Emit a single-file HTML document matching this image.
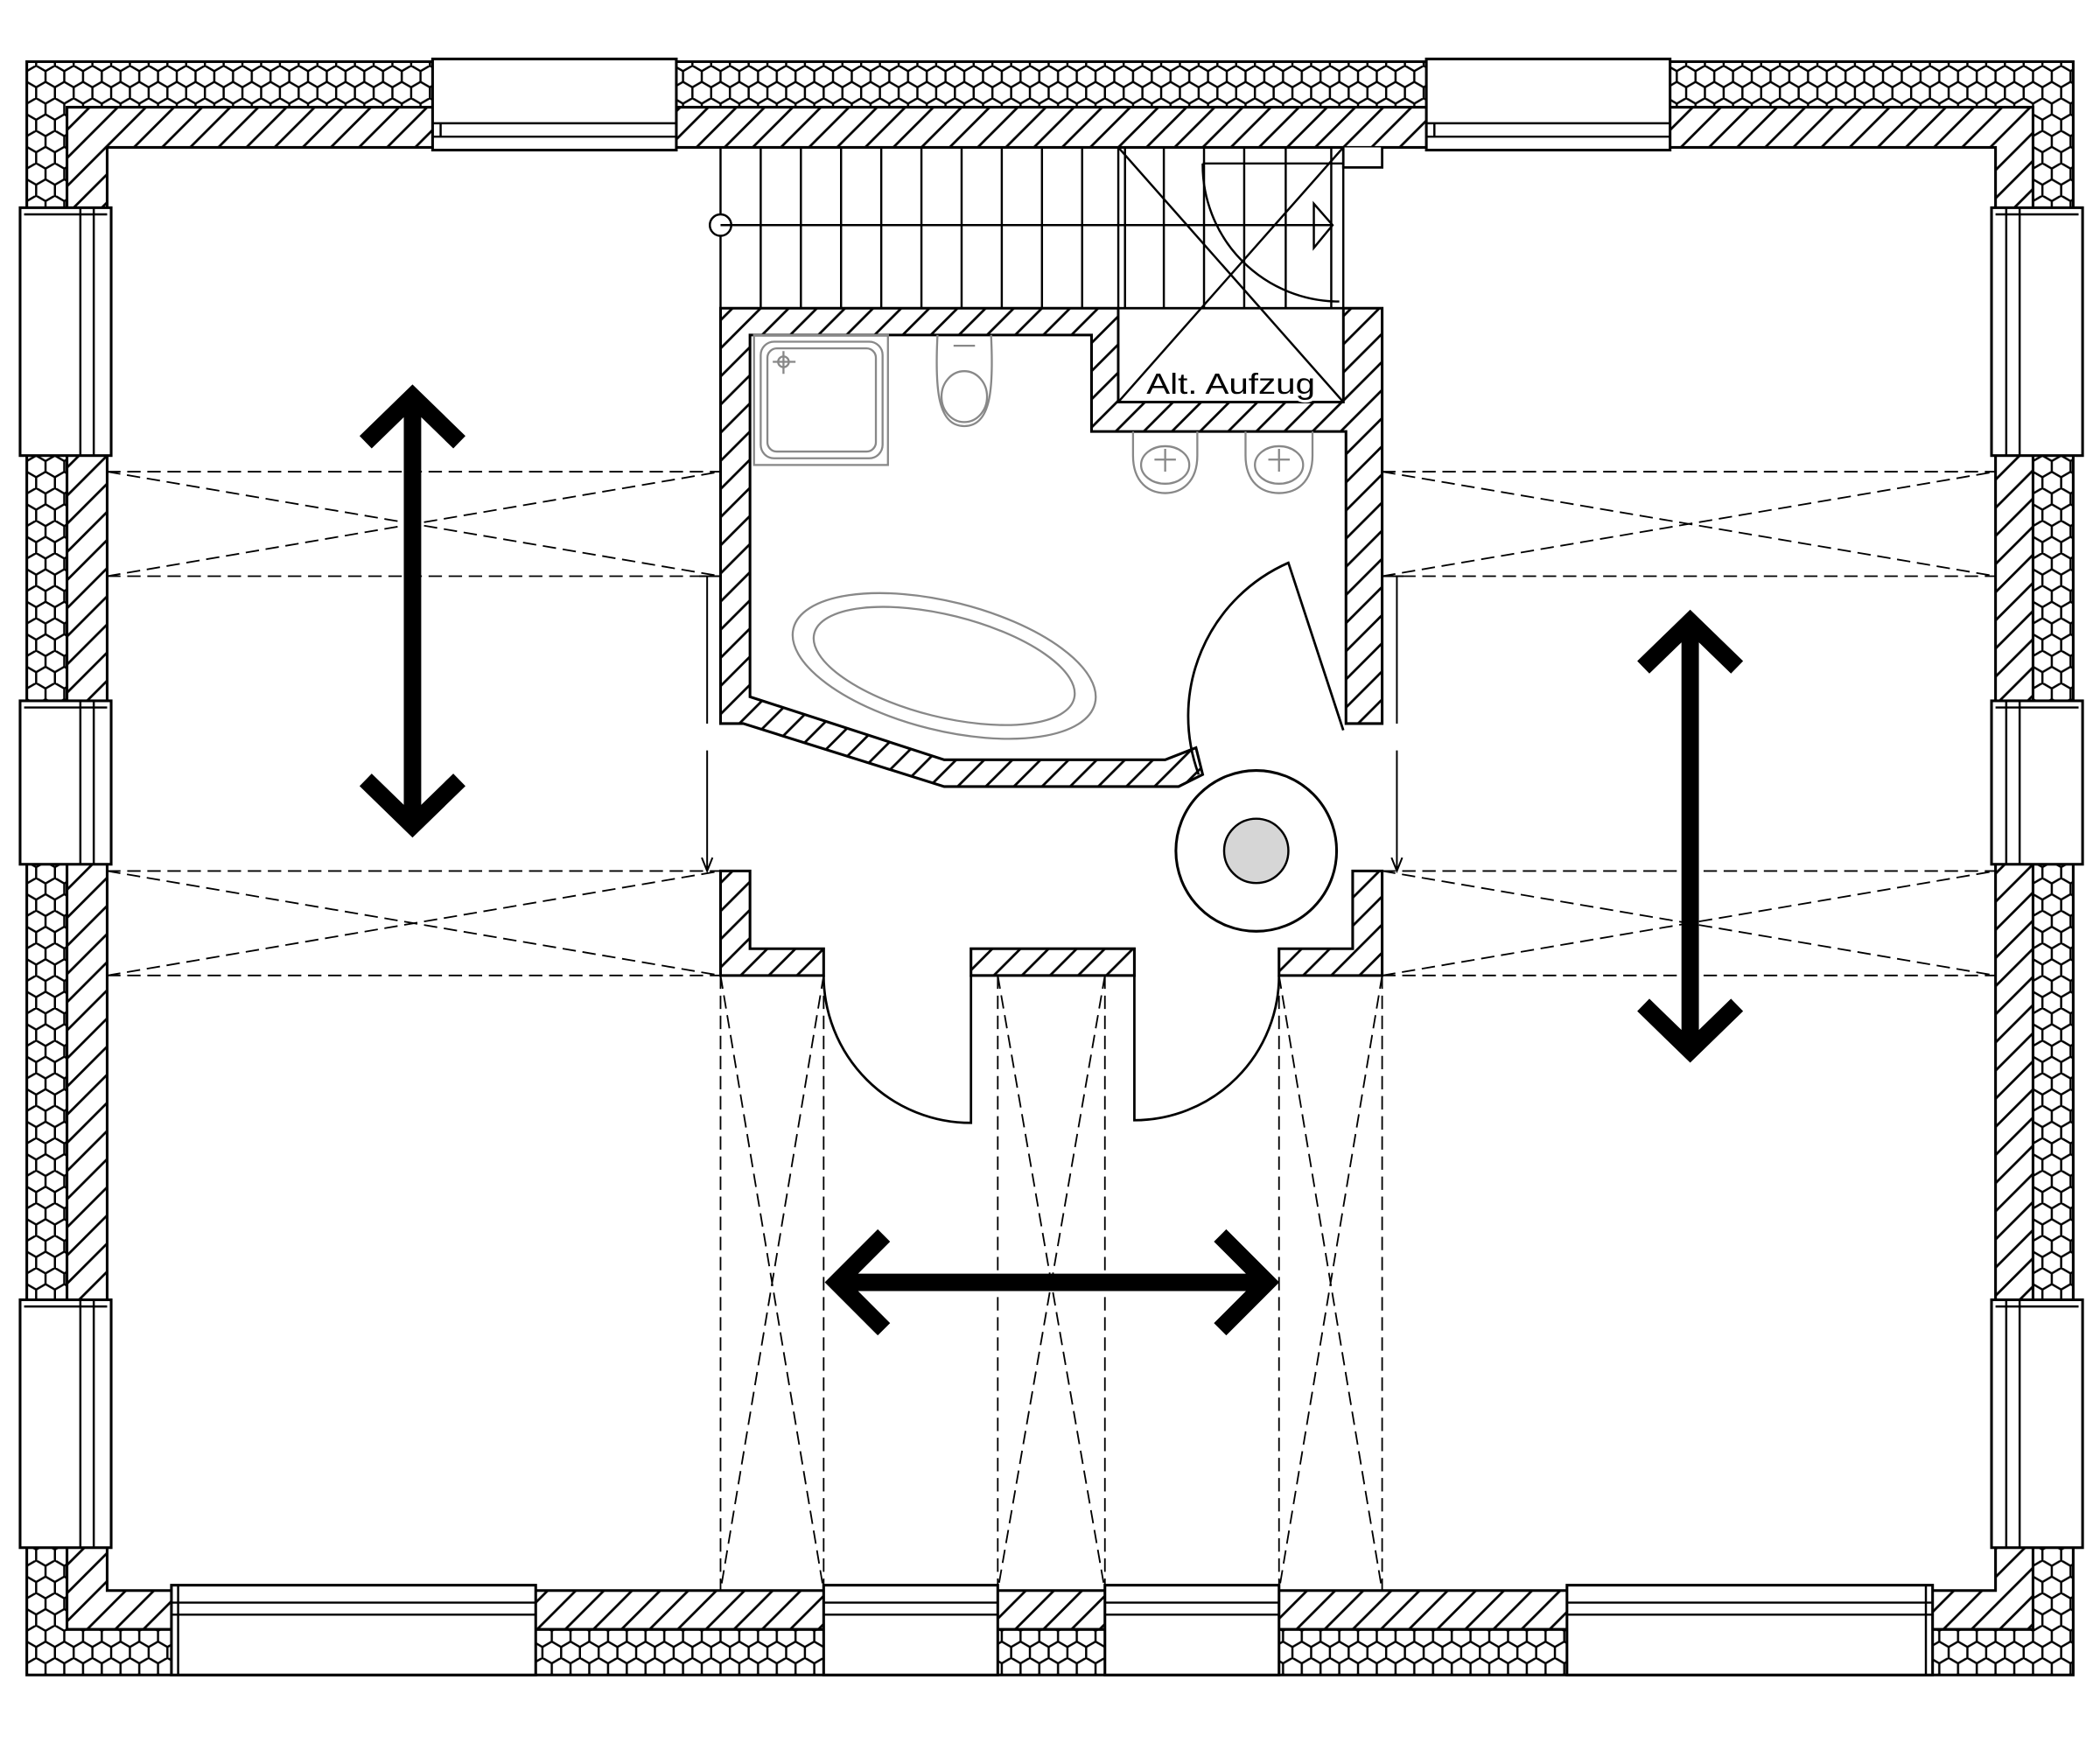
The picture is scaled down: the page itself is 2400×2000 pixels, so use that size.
<!DOCTYPE html>
<html><head><meta charset="utf-8"><style>html,body{margin:0;padding:0;background:#fff}svg{display:block}</style></head>
<body>
<svg width="2400" height="2000" viewBox="0 0 1568 1306" preserveAspectRatio="none" xmlns="http://www.w3.org/2000/svg">
<defs>
<pattern id="hex" patternUnits="userSpaceOnUse" width="14" height="24.25" x="20" y="49">
<path d="M7 0 L14 4.04 V12.12 L7 16.17 L0 12.12 V4.04 Z M7 16.17 V24.25" fill="none" stroke="#000" stroke-width="1.6"/>
</pattern>
<pattern id="hat" patternUnits="userSpaceOnUse" width="21" height="21">
<path d="M0 21 L21 0 M-5 5 L5 -5 M16 26 L26 16" stroke="#000" stroke-width="1.8"/>
</pattern>
</defs>
<rect width="1568" height="1306" fill="#fff"/>
<rect x="20" y="46" width="1528" height="1204" fill="#fff"/>
<rect x="20" y="46" width="1528" height="1204" fill="url(#hex)" stroke="#000" stroke-width="2"/>
<rect x="50" y="80" width="1468" height="1136" fill="#fff" stroke="#000" stroke-width="2"/>
<rect x="50" y="80" width="1468" height="1136" fill="url(#hat)"/>
<rect x="80" y="110" width="1410" height="1077" fill="#fff" stroke="#000" stroke-width="2"/>
<rect x="50" y="80" width="1468" height="1136" fill="none" stroke="#000" stroke-width="2"/>
<path d="M1003 110 V125 H1032 V110" fill="#fff" stroke="#000" stroke-width="1.8"/>
<g fill="#fff" stroke="#000" stroke-width="2">
<rect x="323" y="44" width="182" height="68"/><rect x="1065" y="44" width="182" height="68"/>
<rect x="15" y="155" width="68" height="185"/><rect x="15" y="523" width="68" height="122"/><rect x="15" y="970" width="68" height="185"/>
<rect x="1487" y="155" width="68" height="185"/><rect x="1487" y="523" width="68" height="122"/><rect x="1487" y="970" width="68" height="185"/>
<rect x="128" y="1183" width="272" height="67"/><rect x="615" y="1183" width="130" height="67"/><rect x="825" y="1183" width="130" height="67"/><rect x="1170" y="1183" width="273" height="67"/>
</g>
<g stroke="#000" stroke-width="1.6" fill="none">
<path d="M323 92 H505 M323 102 H505 M1065 92 H1247 M1065 102 H1247 M329 92 V102 M1071 92 V102"/>
<path d="M60 155 V340 M70 155 V340 M60 523 V645 M70 523 V645 M60 970 V1155 M70 970 V1155"/>
<path d="M1508 155 V340 M1498 155 V340 M1508 523 V645 M1498 523 V645 M1508 970 V1155 M1498 970 V1155"/>
<path d="M128 1196 H400 M128 1205 H400 M615 1196 H745 M615 1205 H745 M825 1196 H955 M825 1205 H955 M1170 1196 H1443 M1170 1205 H1443"/>
<path d="M18 160 H80 M18 528 H80 M18 975 H80 M1490 160 H1552 M1490 528 H1552 M1490 975 H1552 M133 1183 V1250 M1438 1183 V1250"/>
</g>
<g stroke="#000" stroke-width="1.6" fill="none">
<path d="M538 110 V230 M568 110 V230 M598 110 V230 M628 110 V230 M658 110 V230 M688 110 V230 M718 110 V230 M748 110 V230 M778 110 V230 M808 110 V230 M835 110 V230 M840 110 V230 M869 110 V230 M899 110 V230 M929 110 V230 M960 110 V230 M994 110 V230"/>
<circle cx="538" cy="168" r="8" fill="#fff"/>
<path d="M538 168 H995 M981 152 L995 168 L981 185 Z"/>
<path d="M898 122 H1003 M898 122 A102 102 0 0 0 1000 225"/>
</g>
<g fill="url(#hat)" stroke="#000" stroke-width="2">
<path d="M538 230 H835 V300 H1003 V230 H1032 V540 H1005 V322 H815 V250 H560 V520 L705 567 H870 L893 558 L898 578 L880 587 H705 L555 540 H538 Z"/>
<path d="M538 650 H560 V708 H615 V728 H538 Z"/>
<rect x="725" y="708" width="122" height="20"/>
<path d="M1032 650 H1010 V708 H955 V728 H1032 Z"/>
</g>
<rect x="835" y="230" width="168" height="70" fill="#fff" stroke="#000" stroke-width="1.8"/>
<path d="M835 110 L1003 300 M1003 110 L835 300 M835 110 H1003 V300" stroke="#000" stroke-width="1.6" fill="none"/>
<text x="856" y="294" font-family="Liberation Sans, sans-serif" font-size="22" fill="#000" textLength="126" lengthAdjust="spacingAndGlyphs" stroke="#fff" stroke-width="4" paint-order="stroke">Alt. Aufzug</text>
<g stroke="#888" stroke-width="1.5" fill="none">
<rect x="563" y="250" width="100" height="97"/>
<rect x="568" y="255" width="91" height="87" rx="10"/><rect x="573" y="260" width="81" height="77" rx="7"/>
<circle cx="585" cy="270" r="4"/><path d="M577 270 H594 M585 262 V279"/>
<path d="M700 250 C698 290 700 318 720 318 C740 318 742 290 740 250"/>
<ellipse cx="720" cy="296" rx="17" ry="19"/><path d="M712 258 H728"/>
<path d="M846 322 V340 C846 360 858 368 870 368 C882 368 894 360 894 340 V322"/>
<ellipse cx="870" cy="347" rx="18" ry="14"/><path d="M862 343 H878 M870 335 V352"/>
<path d="M930 322 V340 C930 360 942 368 955 368 C968 368 980 360 980 340 V322"/>
<ellipse cx="955" cy="347" rx="18" ry="14"/><path d="M947 343 H963 M955 335 V352"/>
<ellipse cx="705" cy="497" rx="116" ry="48" transform="rotate(14 705 497)"/>
<ellipse cx="705" cy="497" rx="100" ry="38" transform="rotate(14 705 497)"/>
</g>
<path d="M1003 545 L962 420 A125 125 0 0 0 895 578" fill="none" stroke="#000" stroke-width="1.8"/>
<circle cx="938" cy="635" r="60" fill="#fff" stroke="#000" stroke-width="2"/>
<circle cx="938" cy="635" r="24" fill="#d6d6d6" stroke="#000" stroke-width="1.6"/>
<path d="M615 728 A110 110 0 0 0 725 838 V728 M955 728 A108 108 0 0 1 847 836 V728" fill="none" stroke="#000" stroke-width="1.8"/>
<g stroke="#000" stroke-width="1.3" fill="none">
<path d="M528 430 V540 M528 560 V650 M524 640 L528 650 L532 640 M522 430 H538 M1043 430 V540 M1043 560 V650 M1039 640 L1043 650 L1047 640 M1032 430 H1048"/>
</g>
<g stroke="#000" stroke-width="1.2" stroke-dasharray="10 5" fill="none">
<path d="M80 352 H538 M80 430 H538 M80 352 L538 430 M80 430 L538 352"/>
<path d="M80 650 H538 M80 728 H538 M80 650 L538 728 M80 728 L538 650"/>
<path d="M1032 352 H1490 M1032 430 H1490 M1032 352 L1490 430 M1032 430 L1490 352"/>
<path d="M1032 650 H1490 M1032 728 H1490 M1032 650 L1490 728 M1032 728 L1490 650"/>
<path d="M538 728 V1187 M615 728 V1187 M538 728 L615 1187 M615 728 L538 1187"/>
<path d="M745 728 V1187 M825 728 V1187 M745 728 L825 1187 M825 728 L745 1187"/>
<path d="M955 728 V1187 M1032 728 V1187 M955 728 L1032 1187 M1032 728 L955 1187"/>
</g>
<g stroke="#000" stroke-width="13" fill="none" stroke-linecap="butt">
<path d="M308 296 V616 M273 330 L308 296 L343 330 M273 582 L308 616 L343 582"/>
<path d="M1262 464 V784 M1227 498 L1262 464 L1297 498 M1227 750 L1262 784 L1297 750"/>
<path d="M625 957 H946 M660 922 L625 957 L660 992 M911 922 L946 957 L911 992"/>
</g>
</svg>
</body></html>
